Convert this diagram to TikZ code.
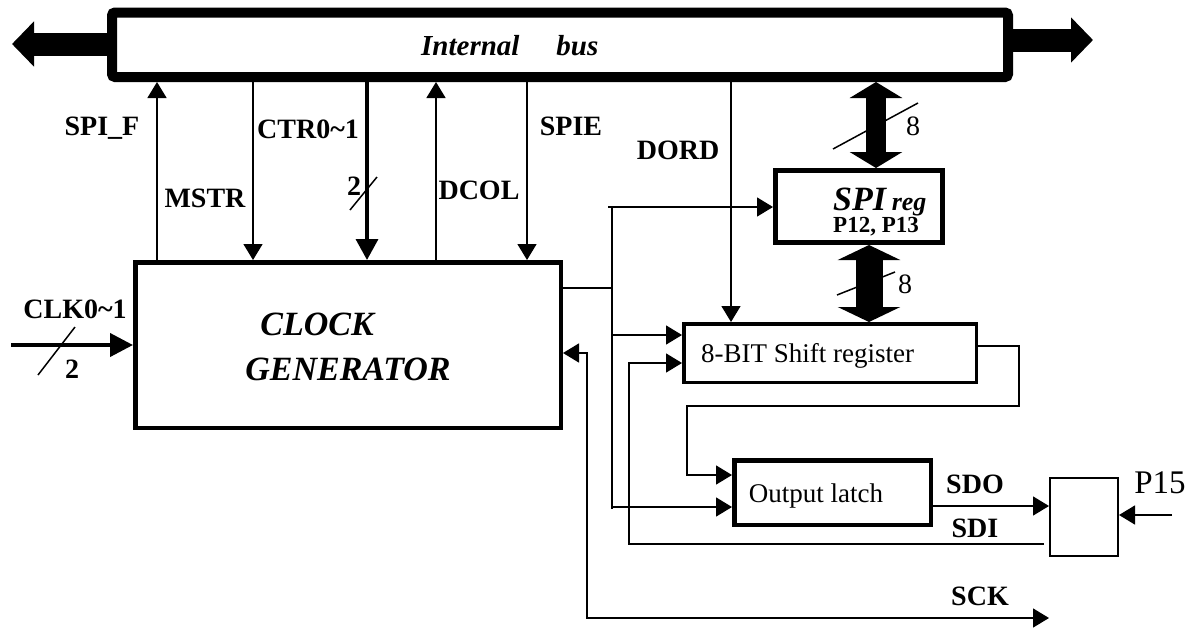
\documentclass[tikz,border=0pt]{standalone}
\usepackage{fontspec}
\setmainfont{Liberation Serif}
\usetikzlibrary{arrows.meta}
\tikzset{
  box/.style={draw, rectangle, inner sep=0pt},
  lbl/.style={font=\fontsize{28}{30}\selectfont\bfseries, inner sep=0pt, anchor=base},
  txt/.style={inner sep=0pt, anchor=base},
  wire/.style={line width=1.5pt},
  sig/.style={line width=1.5pt, -{Triangle[length=16pt,width=19pt]}},
  sigboth/.style={line width=1.5pt, {Triangle[length=16pt,width=19pt]}-{Triangle[length=16pt,width=19pt]}},
  ctrarr/.style={line width=3.5pt, -{Triangle[length=21pt,width=22pt]}},
  clkarr/.style={line width=4pt, -{Triangle[length=23pt,width=23pt]}},
  bigbus/.style={line width=23pt, -{Triangle[length=22pt,width=44pt]}},
  dblA/.style={line width=20pt, {Triangle[length=16pt,width=52pt]}-{Triangle[length=16pt,width=52pt]}},
  dblB/.style={line width=27pt, {Triangle[length=15pt,width=62pt]}-{Triangle[length=15pt,width=62pt]}},
  slash/.style={line width=1.5pt}
}
\begin{document}
\begin{tikzpicture}[x=1pt,y=-1pt]
\fill[white] (0,0) rectangle (1197,627);
\useasboundingbox (0,0) rectangle (1197,627);

% boxes
\node[box, line width=10pt, rounded corners=3pt, minimum width=896pt, minimum height=64.5pt] (bus) at (560,44.75) {};
\node[box, line width=4.5pt, minimum width=425.5pt, minimum height=165.5pt] (clk) at (348,345) {};
\node[box, line width=5pt, minimum width=167pt, minimum height=72pt] (spireg) at (859,206.5) {};
\node[box, line width=3.5pt, minimum width=292.5pt, minimum height=58.5pt] (shift) at (830,353) {};
\node[box, line width=4.5pt, minimum width=196.5pt, minimum height=64.5pt] (latch) at (832.5,492.5) {};
\node[box, line width=2pt, minimum width=68pt, minimum height=78pt] (pin) at (1084,517) {};

% box texts
\node[txt, anchor=base west, font=\fontsize{29}{30}\selectfont\bfseries\itshape] (bustxt) at (421,55) {Internal\hspace{37pt}bus};
\node[txt, font=\fontsize{34}{36}\selectfont\bfseries\itshape] (clk1) at (317,335) {CLOCK};
\node[txt, font=\fontsize{34}{36}\selectfont\bfseries\itshape] (clk2) at (348,380) {GENERATOR};
\node[txt, anchor=base west, font=\fontsize{34}{36}\selectfont\bfseries\itshape] (spitxt) at (833,210) {SPI\,{\fontsize{26}{28}\selectfont reg}};
\node[txt, anchor=base west, font=\fontsize{23}{25}\selectfont\bfseries] (ptxt) at (833,232) {P12, P13};
\node[txt, font=\fontsize{27}{29}\selectfont] (shifttxt) at (807.5,362) {8-BIT Shift register};
\node[txt, font=\fontsize{27}{29}\selectfont] (latchtxt) at (816,502) {Output latch};

% coordinates
\coordinate (xF) at (157,0);
\coordinate (xM) at (253,0);
\coordinate (xC) at (367,0);
\coordinate (xD) at (436,0);
\coordinate (xE) at (527,0);
\coordinate (xO) at (731,0);
\coordinate (xB1) at (876,0);
\coordinate (xB2) at (869,0);
\coordinate (busL) at (12,44);
\coordinate (busR) at (1093,40);
\coordinate (clkin) at (11,345);
\coordinate (j288) at (612,288);
\coordinate (vTop) at (608,207);
\coordinate (vT) at (612,207);
\coordinate (vB) at (612,509);
\coordinate (jA) at (612,335);
\coordinate (jB) at (612,507);
\coordinate (sck1) at (587,353);
\coordinate (sck2) at (587,618);
\coordinate (sckE) at (1049,618);
\coordinate (sdiS) at (1044,544);
\coordinate (sdiC) at (629,544);
\coordinate (sdiU) at (629,363);
\coordinate (lp1) at (1019,346);
\coordinate (lp2) at (1019,406);
\coordinate (lp3) at (687,406);
\coordinate (lp4) at (687,475);
\coordinate (sdo) at (0,506);
\coordinate (p15s) at (1172,515);

% bus arrows
\draw[bigbus] (bus.west |- busL) -- (busL);
\draw[bigbus] (bus.east |- busR) -- (busR);

% control lines
\draw[sig] (clk.north -| xF) -- (bus.south -| xF);
\draw[sig] (bus.south -| xM) -- (clk.north -| xM);
\draw[ctrarr] (bus.south -| xC) -- (clk.north -| xC);
\draw[sig] (clk.north -| xD) -- (bus.south -| xD);
\draw[sig] (bus.south -| xE) -- (clk.north -| xE);
\draw[sig] (bus.south -| xO) -- (shift.north -| xO);

% data buses
\draw[dblA] (bus.south -| xB1) -- (spireg.north -| xB1);
\draw[dblB] (spireg.south -| xB2) -- (shift.north -| xB2);
\draw[slash] (833,149) -- (918,103);
\draw[slash] (837,295) -- (895,272);
\node[txt, font=\fontsize{28}{30}\selectfont] (eightA) at (913,135) {8};
\node[txt, font=\fontsize{28}{30}\selectfont] (eightB) at (905,293) {8};

% clock input
\draw[clkarr] (clkin) -- (clk.west |- clkin);
\draw[slash] (38,375) -- (75,327);
\draw[slash] (350,210) -- (377,177);

% clock output distribution
\draw[wire] (clk.east |- j288) -- (j288);
\draw[wire] (vT) -- (vB);
\draw[sig] (vTop) -- (spireg.west |- vTop);
\draw[sig] (jA) -- (shift.west |- jA);
\draw[sig] (jB) -- (latch.west |- jB);

% SCK
\draw[sigboth] (clk.east |- sck1) -- (sck1) -- (sck2) -- (sckE);

% SDI
\draw[sig] (sdiS) -- (sdiC) -- (sdiU) -- (shift.west |- sdiU);

% shift -> latch loop
\draw[sig] (shift.east |- lp1) -- (lp1) -- (lp2) -- (lp3) -- (lp4) -- (latch.west |- lp4);

% SDO
\draw[sig] (latch.east |- sdo) -- (pin.west |- sdo);

% P15
\draw[sig] (p15s) -- (pin.east |- p15s);

% labels
\node[lbl] (tSPIF) at (102,135) {SPI\_F};
\node[lbl] (tCTR) at (308,138) {CTR0\textasciitilde1};
\node[lbl] (tMSTR) at (205,207) {MSTR};
\node[lbl] (tCTR2) at (354,195) {2};
\node[lbl] (tDCOL) at (479,199) {DCOL};
\node[lbl] (tSPIE) at (571,135) {SPIE};
\node[lbl] (tDORD) at (678,159) {DORD};
\node[lbl] (tCLK) at (75,318) {CLK0\textasciitilde1};
\node[lbl] (tCLK2) at (72,378) {2};
\node[lbl] (tSDO) at (975,493) {SDO};
\node[lbl] (tSDI) at (975,537) {SDI};
\node[lbl] (tSCK) at (980,605) {SCK};
\node[txt, font=\fontsize{33}{35}\selectfont] (tP15) at (1160,493) {P15};
\end{tikzpicture}
\end{document}
